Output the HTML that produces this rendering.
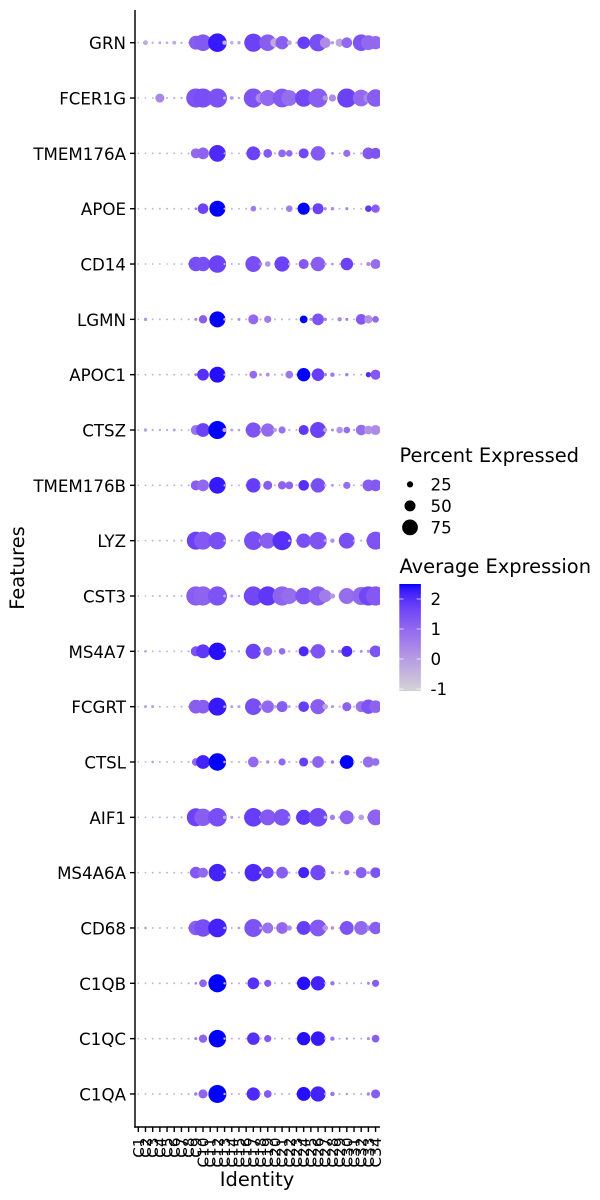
<!DOCTYPE html>
<html>
<head>
<meta charset="utf-8">
<title>Dot plot</title>
<style>
html,body{margin:0;padding:0;background:#fff;width:600px;height:1200px;overflow:hidden}
svg{display:block}
text{font-family:"DejaVu Sans","Liberation Sans",sans-serif;fill:#000}
</style>
</head>
<body>
<svg id="chart" width="600" height="1200" viewBox="0 0 600 1200" xmlns="http://www.w3.org/2000/svg"></svg>
<script>
const identities = ["C1","C2","C3","C4","C5","C6","C7","C8","C9","C10","C11","C12","C13","C14","C15","C16","C17","C18","C19","C20","C21","C22","C23","C24","C25","C26","C27","C28","C29","C30","C31","C32","C33","C34"];
const features = ["GRN","FCER1G","TMEM176A","APOE","CD14","LGMN","APOC1","CTSZ","TMEM176B","LYZ","CST3","MS4A7","FCGRT","CTSL","AIF1","MS4A6A","CD68","C1QB","C1QC","C1QA"];
const sizeLegendValues = [25,50,75];
const colorTicks = [2,1,0,-1];
const pctGRN = [1,18,5,8,6,12,4,1,65,80,3,90,15,10,10,2,88,4,80,40,62,18,5,58,5,84,48,10,35,48,3,80,70,62];
const avgGRN = [-.4,-.3,-.4,-.4,-.4,-.3,-.4,-.4,1.2,1.3,-.4,2.3,-.4,-.3,-.3,-.4,1.7,-.4,1.2,-.3,1.2,-.2,-.4,1.8,-.4,1.5,.3,0,-.2,1,-.4,1.4,1,1];
const pctFCER1G = [1,1,2,40,3,4,5,2,93,93,3,93,8,12,5,3,93,45,76,3,91,75,3,84,3,93,20,30,3,93,4,80,45,84];
const avgFCER1G = [-.4,-.4,-.4,.4,-.4,-.4,-.4,-.4,1.4,1.5,-.4,1.45,-.3,-.1,-.4,-.4,1.4,.4,1,-.4,1.3,.9,-.4,1.6,-.4,1.2,.2,.3,-.4,1.7,-.4,1,.4,1.2];
const pctTMEM176A = [1,1,2,2,2,2,2,3,45,54,3,80,3,2,2,3,65,4,38,4,33,27,3,45,3,68,3,6,2,30,3,4,54,50];
const avgTMEM176A = [-.4,-.4,-.4,-.4,-.4,-.4,-.4,-.4,1,1.1,-.4,2.1,-.4,-.4,-.4,-.4,1.7,-.4,1.3,-.4,1,1,-.4,1.6,-.4,1.3,-.4,.6,-.4,.9,-.4,-.4,1.3,1.4];
const pctAPOE = [1,2,2,2,2,2,2,2,6,48,3,76,3,2,2,3,22,4,3,3,3,27,3,56,3,50,8,10,2,8,2,2,27,36];
const avgAPOE = [-.4,-.4,-.4,-.4,-.4,-.4,-.4,-.4,.6,1.7,-.4,2.5,-.4,-.4,-.4,-.4,.6,-.4,-.4,-.4,-.4,.6,-.4,2.5,-.4,1.7,.4,.4,-.4,.4,-.4,-.4,1.9,1.2];
const pctCD14 = [1,1,1,1,1,2,2,3,68,68,3,84,4,3,3,3,76,10,22,3,72,6,3,45,5,68,8,6,2,58,3,3,15,45];
const avgCD14 = [-.4,-.4,-.4,-.4,-.4,-.4,-.4,-.4,1.5,1.5,-.4,1.7,-.4,-.4,-.4,-.4,1.5,.6,.1,-.4,1.7,-.4,-.4,1.3,-.4,1.2,.2,.2,-.4,1.7,-.4,-.4,.2,.9];
const pctLGMN = [1,10,2,2,2,2,2,3,8,36,3,76,6,3,8,3,45,4,30,3,3,3,3,33,8,54,10,3,15,8,3,48,36,27];
const avgLGMN = [-.4,.1,-.4,-.4,-.4,-.4,-.4,-.4,.4,1.2,-.4,2.5,-.4,-.4,.2,-.4,1,-.4,.6,-.4,-.4,-.4,-.4,2.5,.2,1.4,.6,-.4,.3,.6,-.4,1.3,.2,1];
const pctAPOC1 = [1,2,2,2,2,2,2,3,8,54,3,76,4,2,2,3,33,6,12,3,5,33,3,62,3,58,10,15,3,10,3,3,20,45];
const avgAPOC1 = [-.4,-.4,-.4,-.4,-.4,-.4,-.4,-.4,.7,2,-.4,2.4,-.4,-.4,-.4,-.4,1,.2,.3,-.4,-.4,.7,-.4,2.5,-.4,1.8,.6,.7,-.4,.6,-.4,-.4,2.1,1.3];
const pctCTSZ = [2,10,5,5,5,8,3,2,45,65,3,87,15,8,6,3,72,4,62,15,30,4,3,45,4,76,15,8,27,27,5,48,38,45];
const avgCTSZ = [-.4,-.1,-.4,-.4,-.4,-.1,-.4,-.4,.8,1.7,-.4,2.5,-.3,-.2,-.1,-.4,1.4,-.4,1,-.1,.8,-.4,-.4,1.9,-.4,1.7,-.1,.2,.1,.9,-.4,.9,.2,.3];
const pctTMEM176B = [1,1,2,2,2,2,2,2,45,54,3,80,4,2,2,3,68,4,40,3,36,33,3,48,4,68,6,6,2,30,3,3,54,54];
const avgTMEM176B = [-.4,-.4,-.4,-.4,-.4,-.4,-.4,-.4,1.2,1,-.4,2.3,-.4,-.4,-.4,-.4,1.8,-.4,1.2,-.4,1.1,1.1,-.4,2,-.4,1.5,-.4,.4,-.4,.9,-.4,-.4,1.2,1.3];
const pctLYZ = [1,1,2,2,2,3,3,3,87,87,3,84,5,3,3,3,90,10,76,3,93,6,3,68,10,84,8,15,3,76,4,4,15,87];
const avgLYZ = [-.4,-.4,-.4,-.4,-.4,-.4,-.4,-.4,1.7,1.3,-.4,1.5,-.4,-.4,-.4,-.4,1.5,-.2,1.2,-.4,2,-.4,-.4,1.5,-.2,1.4,-.2,.2,-.4,1.5,-.4,-.4,.3,1.4];
const pctCST3 = [1,1,2,3,2,3,3,3,93,93,4,93,6,8,5,3,93,6,93,4,93,76,4,80,4,93,58,20,4,76,6,87,93,93];
const avgCST3 = [-.4,-.4,-.4,-.4,-.4,-.4,-.4,-.4,1.2,1.1,-.4,1.4,-.4,-.3,-.4,-.4,1.6,-.4,1.9,-.4,1.1,.9,-.4,1.4,-.4,1.2,.6,.1,-.4,.9,-.4,1,1.6,1.3];
const pctMS4A7 = [1,6,2,2,2,2,2,3,45,65,3,84,5,3,5,3,72,5,40,3,27,4,3,45,8,68,3,8,10,50,3,8,8,54];
const avgMS4A7 = [-.4,-.1,-.4,-.4,-.4,-.4,-.4,-.4,1.4,1.9,-.4,2.4,-.4,-.4,-.4,-.4,1.7,-.4,.8,-.4,.9,-.4,-.4,2.1,.3,1.4,-.4,.4,.2,2.1,-.4,.2,.2,1.4];
const pctFCGRT = [1,8,8,2,2,2,3,3,65,65,3,87,6,8,8,3,80,10,58,10,50,8,3,48,4,72,22,8,4,40,3,50,68,58];
const avgFCGRT = [-.4,-.1,-.1,-.4,-.4,-.4,-.4,-.4,1.2,1.2,-.4,2.3,-.2,-.1,-.1,-.4,1.5,-.2,1,-.2,1.2,-.2,-.4,1.8,-.4,1.2,-.2,.2,-.4,1.1,-.4,.8,1.4,1.1];
const pctCTSL = [1,1,6,2,2,2,2,3,33,65,3,84,6,3,3,3,48,4,10,3,30,4,3,40,5,54,3,10,3,65,4,3,50,33];
const avgCTSL = [-.4,-.4,-.1,-.4,-.4,-.4,-.4,-.4,1,2.2,-.4,2.5,-.2,-.4,-.4,-.4,1,-.4,.2,-.4,1,-.4,-.4,1.8,-.4,1.1,-.4,.6,-.4,2.5,-.4,-.4,.9,.9];
const pctAIF1 = [1,2,2,2,2,3,3,3,87,84,4,90,10,8,3,3,90,8,76,3,80,8,3,72,4,90,10,20,6,65,3,22,8,76];
const avgAIF1 = [-.4,-.4,-.4,-.4,-.4,-.4,-.4,-.4,1.7,1.2,-.4,1.5,-.2,-.1,-.4,-.4,1.8,-.2,1.3,-.4,1.4,-.2,-.4,1.9,-.4,1.6,-.2,.5,-.2,1.1,-.4,-.1,-.2,1.1];
const pctMS4A6A = [1,1,2,2,2,2,2,3,54,45,3,84,5,3,3,3,84,8,54,3,54,5,3,50,4,72,3,8,3,20,3,50,8,48];
const avgMS4A6A = [-.4,-.4,-.4,-.4,-.4,-.4,-.4,-.4,1.3,1,-.4,2.2,-.4,-.4,-.4,-.4,2.1,-.2,1.6,-.4,1.2,-.4,-.4,2.2,-.4,1.6,-.4,.3,-.4,.8,-.4,1.2,.2,1.4];
const pctCD68 = [1,6,2,2,2,2,3,3,68,84,4,90,6,3,6,3,87,8,50,3,54,20,3,65,4,80,22,10,6,65,4,65,20,58];
const avgCD68 = [-.4,-.1,-.4,-.4,-.4,-.4,-.4,-.4,1.2,1.5,-.4,2.2,-.4,-.4,-.1,-.4,1.4,-.1,.8,-.4,1,.3,-.4,1.8,-.4,1.3,.1,.3,-.4,1.4,-.4,1,.6,1.2];
const pctC1QB = [1,2,2,2,2,2,2,3,6,33,3,87,5,3,3,3,54,4,30,3,3,3,3,62,3,68,5,15,3,3,3,3,8,30];
const avgC1QB = [-.4,-.4,-.4,-.4,-.4,-.4,-.4,-.4,.6,1.1,-.4,2.5,-.4,-.4,-.4,-.4,2,-.4,1.3,-.4,-.4,-.4,-.4,2.4,-.4,2.2,-.4,.8,-.4,-.1,-.4,-.4,.4,1.2];
const pctC1QC = [1,2,2,2,2,2,2,3,8,36,3,84,5,3,3,3,58,4,30,3,3,3,3,62,3,68,5,15,3,5,3,3,8,33];
const avgC1QC = [-.4,-.4,-.4,-.4,-.4,-.4,-.4,-.4,.6,1.1,-.4,2.5,-.4,-.4,-.4,-.4,2,-.4,1.3,-.4,-.4,-.4,-.4,2.4,-.4,2.3,-.4,.8,-.4,.2,-.4,-.4,.4,1.2];
const pctC1QA = [1,2,2,2,2,2,2,3,10,40,3,87,5,3,3,3,62,4,33,3,3,3,3,65,3,72,5,15,3,5,3,3,10,40];
const avgC1QA = [-.4,-.4,-.4,-.4,-.4,-.4,-.4,-.4,.6,1.1,-.4,2.5,-.4,-.4,-.4,-.4,2.1,-.4,1.3,-.4,-.4,-.4,-.4,2.4,-.4,2.2,-.4,.8,-.4,.2,-.4,-.4,.4,1.2];
const pctRows = [pctGRN,pctFCER1G,pctTMEM176A,pctAPOE,pctCD14,pctLGMN,pctAPOC1,pctCTSZ,pctTMEM176B,pctLYZ,pctCST3,pctMS4A7,pctFCGRT,pctCTSL,pctAIF1,pctMS4A6A,pctCD68,pctC1QB,pctC1QC,pctC1QA];
const avgRows = [avgGRN,avgFCER1G,avgTMEM176A,avgAPOE,avgCD14,avgLGMN,avgAPOC1,avgCTSZ,avgTMEM176B,avgLYZ,avgCST3,avgMS4A7,avgFCGRT,avgCTSL,avgAIF1,avgMS4A6A,avgCD68,avgC1QB,avgC1QC,avgC1QA];

const NS = "http://www.w3.org/2000/svg";
const svg = document.getElementById("chart");
function mk(tag, attrs, parent, txt) {
  const e = document.createElementNS(NS, tag);
  for (const k in attrs) e.setAttribute(k, attrs[k]);
  if (txt !== undefined) e.textContent = txt;
  (parent || svg).appendChild(e);
  return e;
}
const xScale = i => 138.3 + 7.19 * i;
const yScale = i => 42.7 + 55.33 * i;
const dotRadius = p => (0.19 * p + 1.5) / 2;
const barY = v => 659 - 30 * v;
const colorMin = -1.07, colorMax = 2.5;

function labOf(r, g, b) {
  const f = c => { c /= 255; return c <= 0.04045 ? c / 12.92 : Math.pow((c + 0.055) / 1.055, 2.4); };
  const R = f(r), G = f(g), B = f(b);
  const X = (0.4124 * R + 0.3576 * G + 0.1805 * B) / 0.95047;
  const Y = 0.2126 * R + 0.7152 * G + 0.0722 * B;
  const Z = (0.0193 * R + 0.1192 * G + 0.9505 * B) / 1.08883;
  const h = t => t > 0.008856 ? Math.cbrt(t) : 7.787 * t + 16 / 116;
  return [116 * h(Y) - 16, 500 * (h(X) - h(Y)), 200 * (h(Y) - h(Z))];
}
const labLow = labOf(211, 211, 211), labHigh = labOf(0, 0, 255);
function colorOf(v) {
  const t = Math.max(0, Math.min(1, (v - colorMin) / (colorMax - colorMin)));
  const L = labLow[0] + (labHigh[0] - labLow[0]) * t;
  const a = labLow[1] + (labHigh[1] - labLow[1]) * t;
  const b = labLow[2] + (labHigh[2] - labLow[2]) * t;
  const fy = (L + 16) / 116, fx = fy + a / 500, fz = fy - b / 200;
  const inv = u => u * u * u > 0.008856 ? u * u * u : (u - 16 / 116) / 7.787;
  const X = 0.95047 * inv(fx), Y = inv(fy), Z = 1.08883 * inv(fz);
  const R = 3.2406 * X - 1.5372 * Y - 0.4986 * Z;
  const G = -0.9689 * X + 1.8758 * Y + 0.0415 * Z;
  const B = 0.0557 * X - 0.204 * Y + 1.057 * Z;
  const g = c => { c = Math.max(0, Math.min(1, c)); return Math.round(255 * (c <= 0.0031308 ? 12.92 * c : 1.055 * Math.pow(c, 1 / 2.4) - 0.055)); };
  return "rgb(" + g(R) + "," + g(G) + "," + g(B) + ")";
}

const defs = mk("defs", {});
const clip = mk("clipPath", {id: "panel-clip"}, defs);
mk("rect", {x: 135, y: 10, width: 245, height: 1117}, clip);
const grad = mk("linearGradient", {id: "bar-grad", x1: 0, y1: 1, x2: 0, y2: 0}, defs);
for (let s = 0; s <= 20; s++) {
  mk("stop", {offset: s / 20, "stop-color": colorOf(colorMin + (colorMax - colorMin) * s / 20)}, grad);
}

const dots = mk("g", {"clip-path": "url(#panel-clip)"});


features.forEach((f, r) => {
  identities.forEach((id, c) => {
    const dot = mk("circle", {cx: xScale(c), cy: yScale(r), r: dotRadius(pctRows[r][c]), fill: colorOf(avgRows[r][c])}, dots);
    
    
  });
});

const yAxisLine = mk("line", {x1: 135, y1: 10, x2: 135, y2: 1127.7, stroke: "#000", "stroke-width": 1.45});


const xAxisLine = mk("line", {x1: 134.3, y1: 1127, x2: 380, y2: 1127, stroke: "#000", "stroke-width": 1.45});



features.forEach((f, r) => {
  const tick = mk("line", {x1: 130, y1: yScale(r), x2: 135, y2: yScale(r), stroke: "#000", "stroke-width": 1.4});
  
  
  const label = mk("text", {x: 126, y: yScale(r) + 6.5, "text-anchor": "end", "font-size": 16.67}, svg, f);
  
  
});
identities.forEach((id, c) => {
  const tick = mk("line", {x1: xScale(c), y1: 1127, x2: xScale(c), y2: 1132, stroke: "#000", "stroke-width": 1.4});
  
  
  const label = mk("text", {transform: "translate(" + (xScale(c) + 5.5) + ",1137.5) rotate(-90)", "text-anchor": "end", "font-size": 15.2}, svg, id);
  
  
});

const xTitle = mk("text", {x: 257, y: 1186, "text-anchor": "middle", "font-size": 19.44}, svg, "Identity");


const yTitle = mk("text", {transform: "translate(24,568) rotate(-90)", "text-anchor": "middle", "font-size": 19.44}, svg, "Features");



const sizeTitle = mk("text", {x: 399.5, y: 462, "font-size": 19.44}, svg, "Percent Expressed");


sizeLegendValues.forEach((v, i) => {
  const ly = 484.4 + 21.5 * i;
  const key = mk("circle", {cx: 410, cy: ly, r: dotRadius(v), fill: "#000"});
  
  
  const lab = mk("text", {x: 430.5, y: ly + 6, "font-size": 16.67}, svg, String(v));
  
  
});

const colorTitle = mk("text", {x: 399.5, y: 573, "font-size": 19.44}, svg, "Average Expression");


const bar = mk("rect", {x: 399.3, y: barY(colorMax), width: 21.6, height: barY(colorMin) - barY(colorMax), fill: "url(#bar-grad)"});


colorTicks.forEach(v => {
  const t1 = mk("line", {x1: 399.3, x2: 403.6, y1: barY(v), y2: barY(v), stroke: "#fff", "stroke-width": 0.7});
  
  
  const t2 = mk("line", {x1: 416.6, x2: 420.9, y1: barY(v), y2: barY(v), stroke: "#fff", "stroke-width": 0.7});
  
  
  const lab = mk("text", {x: 430.5, y: barY(v) + 6, "font-size": 16.67}, svg, String(v));
  
  
});
</script>
</body>
</html>
